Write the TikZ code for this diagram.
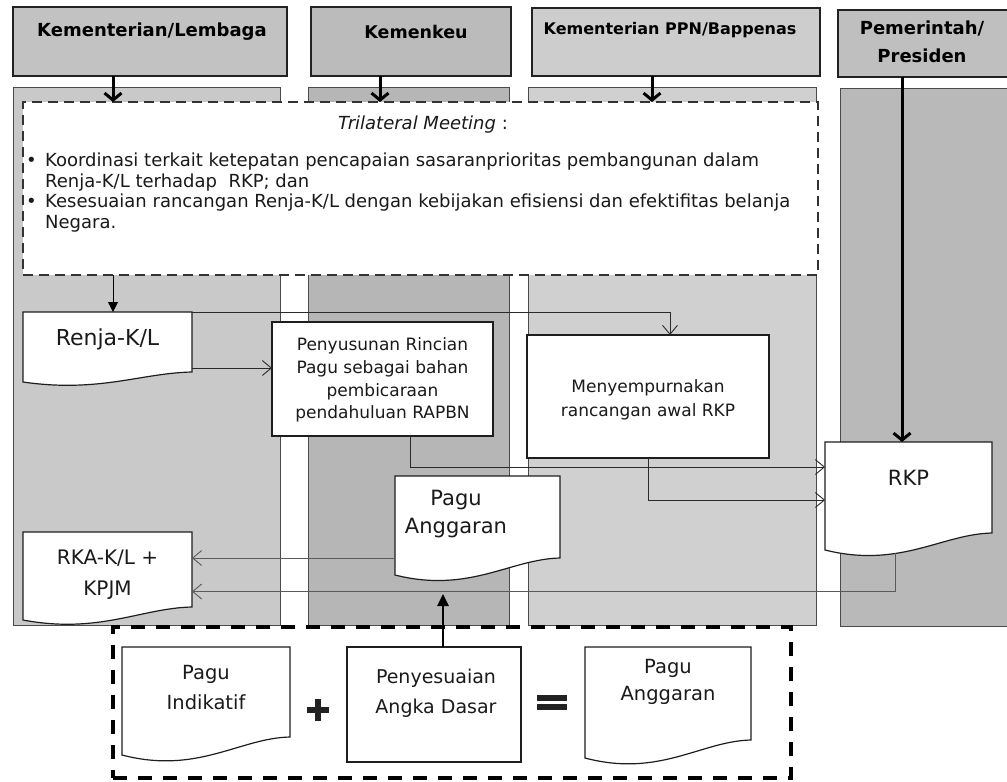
\documentclass[tikz,border=0pt]{standalone}
\usepackage{fontspec}
\setmainfont{DejaVu Sans}
\usetikzlibrary{arrows.meta,calc}
\definecolor{laneA}{HTML}{C9C9C9}
\definecolor{laneB}{HTML}{B6B6B6}
\definecolor{laneC}{HTML}{D0D0D0}
\definecolor{laneD}{HTML}{B9B9B9}
\definecolor{hdrA}{HTML}{C2C2C2}
\definecolor{hdrB}{HTML}{BBBBBB}
\definecolor{hdrC}{HTML}{CDCDCD}
\definecolor{hdrD}{HTML}{BFBFBF}
\definecolor{laneline}{HTML}{4A4A4A}
\definecolor{hdrline}{HTML}{222222}
\definecolor{boxline}{HTML}{1E1E1E}
\definecolor{txtc}{HTML}{1A1A1A}
\definecolor{connc}{HTML}{2A2A2A}
\definecolor{conng}{HTML}{5A5A5A}
\definecolor{tric}{HTML}{333333}
\newcommand\fs[2]{\fontsize{#1}{#2}\selectfont}
\newcommand\docshape[2]{%
  \path[docline] let \p1=(#1.north west), \p2=(#1.south east), \n1={\x2-\x1} in
    (\p1) -- (\x2,\y1) -- (\p2)
    .. controls (\x2-0.3*\n1, \y2-1pt) and (\x1+0.45*\n1, \y2-2.1*#2pt) .. (\x1, \y2-#2pt) -- cycle;}
\begin{document}
\begin{tikzpicture}[x=1pt,y=-1pt,
  geo/.style={inner sep=0pt, outer sep=0pt, anchor=north west},
  lane/.style={geo, draw=laneline, line width=0.9pt},
  hdr/.style={geo, draw=hdrline, line width=1.5pt},
  hdrtext/.style={align=center, inner sep=0pt, text=black},
  box/.style={geo, draw=boxline, fill=white, line width=1.2pt},
  docline/.style={draw=boxline, fill=white, line width=1.2pt},
  txt/.style={align=center, inner sep=0pt, text=txtc},
  conn/.style={draw=connc, line width=0.9pt, -{Straight Barb[length=9pt,width=15pt]}},
  conng/.style={draw=conng, line width=0.9pt, -{Straight Barb[length=9pt,width=15pt]}},
  bigarrow/.style={draw=black, line width=3pt, -{Straight Barb[length=7pt,width=17pt]}},
  smallfill/.style={draw=black, line width=1pt, -{Triangle[length=10pt,width=10pt]}},
  uparrow/.style={draw=black, line width=2.6pt, -{Triangle[length=12pt,width=11pt]}},
  tribox/.style={geo, draw=tric, fill=white, line width=1.6pt, dash pattern=on 10pt off 6pt},
  botbox/.style={geo, draw=black, line width=4pt, dash pattern=on 14pt off 11pt},
  signc/.style={fill=hdrline}
]
\useasboundingbox (0,0) rectangle (1007,782);
\fill[white] (0,0) rectangle (1007,782);

% lanes
\node[lane, fill=laneA, minimum width=267pt, minimum height=538pt] (L1) at (13,87) {};
\node[lane, fill=laneB, minimum width=201pt, minimum height=538pt] (L2) at (308,87) {};
\node[lane, fill=laneC, minimum width=288pt, minimum height=538pt] (L3) at (528,87) {};
\node[lane, fill=laneD, minimum width=190pt, minimum height=538pt] (L4) at (840,88) {};

% headers
\node[hdr, fill=hdrA, minimum width=274pt, minimum height=69pt] (H1) at (13,7) {};
\node[hdr, fill=hdrB, minimum width=200pt, minimum height=69pt] (H2) at (311,7) {};
\node[hdr, fill=hdrC, minimum width=288pt, minimum height=68pt] (H3) at (532,8) {};
\node[hdr, fill=hdrD, minimum width=190pt, minimum height=67pt] (H4) at (838,10) {};
\node[hdrtext, font=\bfseries\fs{18}{20}] (H1t) at (152,32) {Kementerian/Lembaga};
\node[hdrtext, font=\bfseries\fs{17.5}{20}] (H2t) at (416,32) {Kemenkeu};
\node[hdrtext, font=\bfseries\fs{16}{20}] (H3t) at (670,30) {Kementerian PPN/Bappenas};
\node[hdrtext, font=\bfseries\fs{18}{28}] (H4t) at (922,42) {Pemerintah/\\Presiden};

% trilateral meeting box
\node[tribox, minimum width=795pt, minimum height=173pt] (tri) at (23,102) {};
\node[txt, font=\fs{18}{20}] (trit) at (423,125) {\textit{Trilateral Meeting} :};
\node[anchor=base west, inner sep=0pt, text=txtc, font=\fs{18}{20.5}] (bul) at (26,166.5)
  {\begin{tabular}[t]{@{}p{19pt}@{}l@{}}
   \textbullet & Koordinasi terkait ketepatan pencapaian sasaranprioritas pembangunan dalam\\
   & Renja-K/L terhadap\ \ RKP; dan\\
   \textbullet & Kesesuaian rancangan Renja-K/L dengan kebijakan efisiensi dan efektifitas belanja\\
   & Negara.
   \end{tabular}};

% header arrows
\coordinate (h1) at ($(H1.south)+(-37,0)$);
\coordinate (h2) at ($(H2.south)+(-31,0)$);
\coordinate (h3) at ($(H3.south)+(-24,0)$);
\coordinate (h4) at ($(H4.south)+(-31,0)$);

% shapes
\node[geo, minimum width=169pt, minimum height=60pt] (Renja) at (23,312) {};
\docshape{Renja}{10}
\node[txt, font=\fs{22}{26}] (Renjat) at (107.5,339) {Renja-K/L};

\node[box, minimum width=221pt, minimum height=114pt] (Pen) at (272,322) {};
\node[txt, font=\fs{17}{22.7}] (Pent) at (382.5,380) {Penyusunan Rincian\\Pagu sebagai bahan\\pembicaraan\\pendahuluan RAPBN};

\node[box, minimum width=242pt, minimum height=123pt] (Men) at (527,335) {};
\node[txt, font=\fs{17}{24}] (Ment) at (648,400) {Menyempurnakan\\rancangan awal RKP};

\node[geo, minimum width=167pt, minimum height=91pt] (RKP) at (825,442) {};
\docshape{RKP}{17}
\node[txt, font=\fs{21}{24}] (RKPt) at (908.5,478) {RKP};

\node[geo, minimum width=165pt, minimum height=82pt] (PaguMid) at (395,476) {};
\docshape{PaguMid}{17}
\node[txt, font=\fs{21}{28}] (PaguMidt) at (456,514) {Pagu\\Anggaran};

\node[geo, minimum width=169pt, minimum height=75pt] (RKA) at (23,532) {};
\docshape{RKA}{13}
\node[txt, font=\fs{20}{31}] (RKAt) at (107.5,575) {RKA-K/L +\\KPJM};

% bottom formula
\node[botbox, minimum width=678pt, minimum height=151pt] (bot) at (113,627) {};
\node[geo, minimum width=168pt, minimum height=90pt] (Ind) at (122,647) {};
\docshape{Ind}{18}
\node[txt, font=\fs{19.5}{30}] (Indt) at (206,688) {Pagu\\Indikatif};
\node[box, minimum width=174pt, minimum height=115pt] (Pes) at (347,647) {};
\node[txt, font=\fs{19}{30}] (Pest) at (436,693) {Penyesuaian\\Angka Dasar};
\node[geo, minimum width=166pt, minimum height=93pt] (PAng) at (585,647) {};
\docshape{PAng}{18}
\node[txt, font=\fs{19.5}{27}] (PAngt) at (668,682) {Pagu\\Anggaran};
\fill[signc] (307,707) rectangle (329,713);
\fill[signc] (315,699) rectangle (321,721);
\fill[signc] (537,695) rectangle (567,700.5);
\fill[signc] (537,704) rectangle (567,709.5);

% arrows
\draw[bigarrow] (h1) -- (h1 |- tri.north);
\draw[bigarrow] (h2) -- (h2 |- tri.north);
\draw[bigarrow] (h3) -- (h3 |- tri.north);
\draw[bigarrow] (h4) -- (h4 |- RKP.north);

\coordinate (t0) at ($(Renja.north)+(5.5,0)$);
\draw[smallfill] (t0 |- tri.south) -- (t0);

\coordinate (m1) at ($(Men.north)+(22,0)$);
\draw[conn] (Renja.north east) -| (m1);
\coordinate (r1) at ($(Renja.east)+(0,26)$);
\draw[conn] (r1) -- (r1 -| Pen.west);
\coordinate (p1) at ($(Pen.south)+(28,0)$);
\coordinate (k1) at ($(RKP.west)+(0,-20.5)$);
\draw[conn] (p1) |- (k1);
\coordinate (k2) at ($(RKP.west)+(0,12.5)$);
\draw[conn] (Men.south) |- (k2);
\draw[conng] (PaguMid.south west) -- (PaguMid.south west -| RKA.east);
\coordinate (k3) at ($(RKP.south)+(-13,20)$);
\coordinate (a3) at ($(RKA.east)+(0,22)$);
\draw[conng] (k3) |- (a3);
\coordinate (u0) at ($(Pes.north)+(9,0)$);
\coordinate (u1) at (443,594);
\draw[uparrow] (u0) -- (u1);
\end{tikzpicture}
\end{document}
